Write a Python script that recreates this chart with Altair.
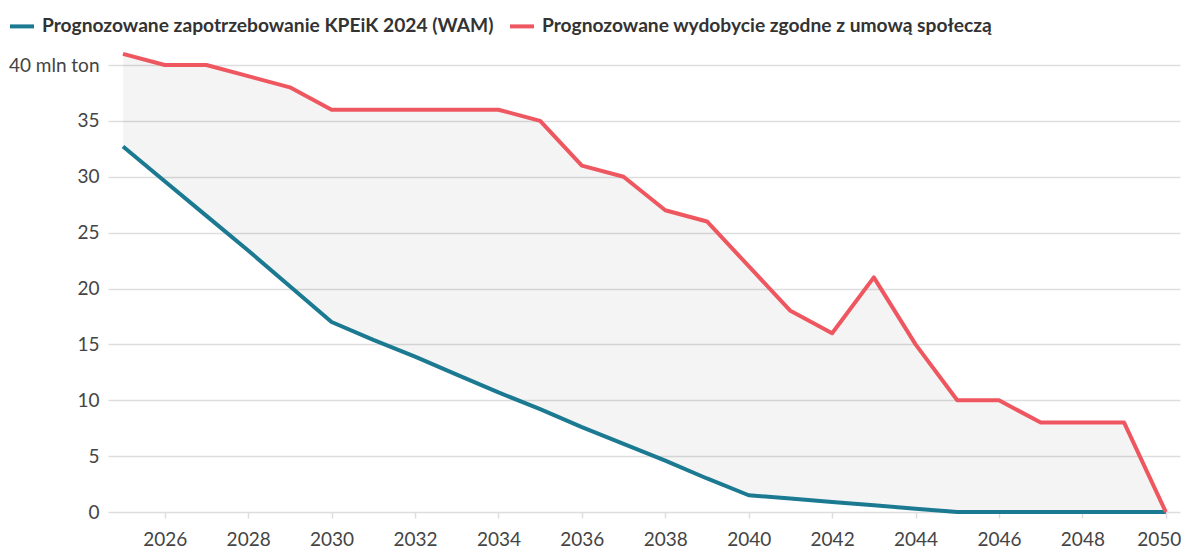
import altair as alt
import pandas as pd
import json

years = list(range(2025, 2051))
demand = [32.7, 29.6, 26.5, 23.4, 20.2,
          17.0, 15.4, 13.9, 12.3, 10.7, 9.2, 7.6, 6.1, 4.6, 3.0,
          1.5, 1.2, 0.9, 0.6, 0.3,
          0, 0, 0, 0, 0, 0]
supply = [41, 40, 40, 39, 38,
          36, 36, 36, 36, 36,
          35, 31, 30, 27, 26,
          22, 18, 16, 21, 15,
          10, 10, 8, 8, 8, 0]

name_d = "Prognozowane zapotrzebowanie KPEiK 2024 (WAM)"
name_s = "Prognozowane wydobycie zgodne z umową społeczą"
x_ticks = list(range(2026, 2051, 2))
y_ticks = list(range(0, 41, 5))

df = pd.DataFrame({"year": years, "demand": demand, "supply": supply})

xscale = alt.Scale(domain=[2024.64, 2050.34], nice=False, zero=False)
yscale = alt.Scale(domain=[0, 40], nice=False)

x_axis = alt.Axis(values=x_ticks, format="d", grid=False, domain=False, ticks=True,
                  tickSize=6, tickColor="#dddddd", tickWidth=1.5, labelFontSize=19,
                  labelColor="#444444", labelPadding=12, title=None,
                  labelFlush=15, labelFlushOffset=15)
y_axis = alt.Axis(values=y_ticks, labelExpr="datum.value == 40 ? '40 mln ton' : datum.label",
                  grid=True, gridColor="#dddddd", gridWidth=1.5, domain=False, ticks=False,
                  labelPadding=9, title=None, labelFontSize=19, labelColor="#444444")

X = alt.X("year:Q", scale=xscale, axis=x_axis)

area = alt.Chart(df).mark_area(color="#000000", opacity=0.045).encode(
    x=X,
    y=alt.Y("supply:Q", scale=yscale, axis=y_axis),
    y2="demand:Q",
)

color_scale = alt.Scale(domain=[name_d, name_s], range=["#1b7a91", "#ef5760"])
legend = alt.Legend(title=None, orient="none", legendX=-100, legendY=-53,
                    direction="horizontal", symbolType="stroke", symbolStrokeWidth=4,
                    symbolSize=576, labelOffset=6, columnPadding=8, labelFontSize=19.2,
                    labelFontWeight="bold", labelColor="#333333", labelLimit=1000, padding=0)

line_d = alt.Chart(df).transform_calculate(series=json.dumps(name_d)).mark_line(
    strokeWidth=4, strokeJoin="round").encode(
    x=X,
    y=alt.Y("demand:Q", scale=yscale, axis=y_axis),
    color=alt.Color("series:N", scale=color_scale, legend=legend),
)
line_s = alt.Chart(df).transform_calculate(series=json.dumps(name_s)).mark_line(
    strokeWidth=4, strokeJoin="round").encode(
    x=X,
    y=alt.Y("supply:Q", scale=yscale, axis=y_axis),
    color=alt.Color("series:N", scale=color_scale, legend=legend),
)

chart = alt.layer(area, line_d, line_s).properties(
    width=1072, height=447,
    autosize=alt.AutoSizeParams(type="none"),
    padding={"left": 100, "top": 57, "right": 2, "bottom": 36},
).configure(font="Lato").configure_view(stroke=None)

chart.save("out.html", embed_options={"renderer": "svg", "actions": False})
